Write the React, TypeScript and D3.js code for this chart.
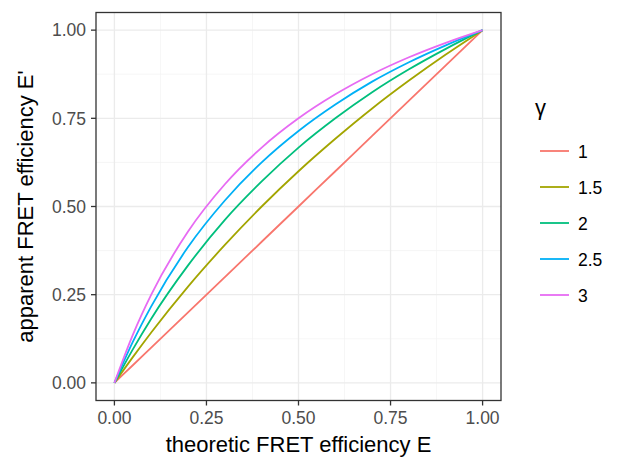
import React from "react";
import * as d3 from "d3";

const efficiencyE = [0, 0.05, 0.1, 0.2, 0.3, 0.4, 0.5, 0.6, 0.7, 0.8, 0.9, 1.0];
const gammaLabels = ["1", "1.5", "2", "2.5", "3"];
const seriesG1 = [0, 0.05, 0.1, 0.2, 0.3, 0.4, 0.5, 0.6, 0.7, 0.8, 0.9, 1.0];
const seriesG15 = [0, 0.073, 0.143, 0.273, 0.391, 0.5, 0.6, 0.692, 0.778, 0.857, 0.931, 1.0];
const seriesG2 = [0, 0.095, 0.182, 0.333, 0.462, 0.571, 0.667, 0.75, 0.824, 0.889, 0.947, 1.0];
const seriesG25 = [0, 0.116, 0.217, 0.385, 0.517, 0.625, 0.714, 0.789, 0.854, 0.909, 0.957, 1.0];
const seriesG3 = [0, 0.136, 0.25, 0.429, 0.563, 0.667, 0.75, 0.818, 0.875, 0.923, 0.964, 1.0];
const allSeries = [seriesG1, seriesG15, seriesG2, seriesG25, seriesG3];
const colors = ["#F8766D", "#A3A500", "#00BF7D", "#00B0F6", "#E76BF3"];
const tickValues = [0, 0.25, 0.5, 0.75, 1.0];
const minorTicks = [0.125, 0.375, 0.625, 0.875];

export default function App() {
  const W = 625, H = 468;
  const left = 96, right = 501, top = 12.5, bottom = 400.5;
  const x = d3.scaleLinear().domain([-0.05, 1.05]).range([left, right]);
  const y = d3.scaleLinear().domain([-0.05, 1.05]).range([bottom, top]);
  const line = d3
    .line<number>()
    .x((_, i) => x(efficiencyE[i]))
    .y((d) => y(d))
    .curve(d3.curveMonotoneX);
  const font = "'Liberation Sans', Arial, sans-serif";
  return (
    <svg
      width={W}
      height={H}
      style={{ position: "absolute", left: 0, top: 0, background: "#fff" }}
      fontFamily={font}
    >
      <rect x={left} y={top} width={right - left} height={bottom - top} fill="#fff" />
      {minorTicks.map((t) => (
        <g key={"m" + t}>
          <line x1={x(t)} x2={x(t)} y1={top} y2={bottom} stroke="#F2F2F2" strokeWidth={0.7} />
          <line x1={left} x2={right} y1={y(t)} y2={y(t)} stroke="#F2F2F2" strokeWidth={0.7} />
        </g>
      ))}
      {tickValues.map((t) => (
        <g key={"g" + t}>
          <line x1={x(t)} x2={x(t)} y1={top} y2={bottom} stroke="#EBEBEB" strokeWidth={1.3} />
          <line x1={left} x2={right} y1={y(t)} y2={y(t)} stroke="#EBEBEB" strokeWidth={1.3} />
        </g>
      ))}
      {allSeries.map((s, i) => (
        <path key={i} d={line(s) || ""} fill="none" stroke={colors[i]} strokeWidth={1.8} />
      ))}
      <rect x={left} y={top} width={right - left} height={bottom - top} fill="none" stroke="#333" strokeWidth={1.3} />
      {tickValues.map((t) => (
        <g key={"t" + t}>
          <line x1={x(t)} x2={x(t)} y1={bottom} y2={bottom + 5} stroke="#333" strokeWidth={1.3} />
          <text x={x(t)} y={423.5} textAnchor="middle" fontSize={17.5} fill="#4D4D4D">
            {t.toFixed(2)}
          </text>
          <line x1={left - 5} x2={left} y1={y(t)} y2={y(t)} stroke="#333" strokeWidth={1.3} />
          <text x={86} y={y(t) + 6.3} textAnchor="end" fontSize={17.5} fill="#4D4D4D">
            {t.toFixed(2)}
          </text>
        </g>
      ))}
      <text x={(left + right) / 2} y={452} textAnchor="middle" fontSize={22} fill="#000">
        theoretic FRET efficiency E
      </text>
      <text
        transform={`translate(33, ${(top + bottom) / 2}) rotate(-90)`}
        textAnchor="middle"
        fontSize={22}
        fill="#000"
      >
        apparent FRET efficiency E'
      </text>
      <text x={535} y={115} fontSize={22} fill="#000">
        γ
      </text>
      {gammaLabels.map((g, i) => (
        <g key={"l" + g}>
          <line x1={540} x2={569} y1={151 + i * 36} y2={151 + i * 36} stroke={colors[i]} strokeWidth={1.8} />
          <text x={578} y={151 + i * 36 + 6.5} fontSize={17.5} fill="#000">
            {g}
          </text>
        </g>
      ))}
    </svg>
  );
}
